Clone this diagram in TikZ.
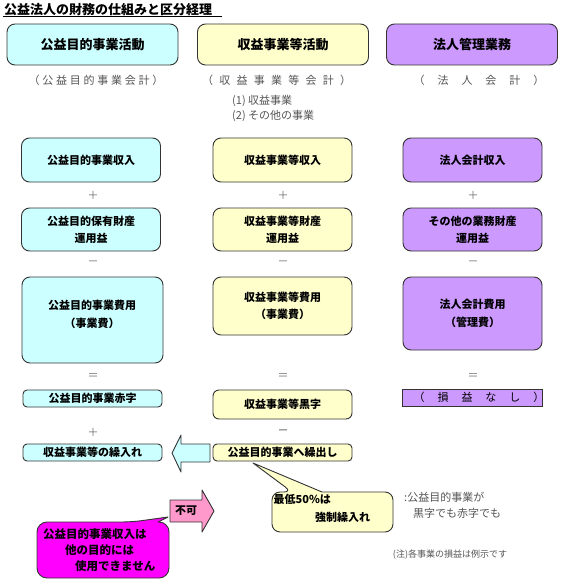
\documentclass[tikz,border=0pt]{standalone}
\usepackage{fontspec}
\setmainfont{Noto Sans CJK JP}
\definecolor{cy}{HTML}{CCFFFF}
\definecolor{yl}{HTML}{FFFFCC}
\definecolor{pu}{HTML}{CC99FF}
\definecolor{mg}{HTML}{FF00FF}
\definecolor{pk}{HTML}{FF99CC}
\definecolor{bd}{HTML}{333333}
\definecolor{subgray}{HTML}{555555}
\begin{document}
\begin{tikzpicture}[x=1pt,y=-1pt,
  bigbox/.style={draw=bd, line width=0.9pt, rounded corners=8pt, inner sep=0pt, align=center,
     font=\fontsize{11}{17}\selectfont\bfseries},
  hdbox/.style={bigbox, minimum width=171pt, minimum height=41pt, font=\fontsize{13}{15}\selectfont\bfseries},
  rowbox/.style={bigbox, minimum width=139pt, minimum height=44pt},
  smallbox/.style={draw=bd, line width=0.9pt, rounded corners=4pt, inner sep=0pt, minimum width=139pt,
     minimum height=17pt, font=\fontsize{11}{13}\selectfont\bfseries},
  subtxt/.style={inner sep=0pt, text=subgray, font=\fontsize{11}{13}\selectfont},
  optxt/.style={inner sep=0pt, text=black!55, font=\fontsize{11}{13}\selectfont},
  boldtxt/.style={inner sep=0pt, font=\fontsize{11}{13}\selectfont\bfseries},
  shapeline/.style={draw=bd, line width=0.9pt, line join=round}
]
\useasboundingbox (0,0) rectangle (560,583);

% title
\node[inner sep=0pt, anchor=west, font=\fontsize{13}{15}\selectfont\bfseries] (title) at (4,9.5) {公益法人の財務の仕組みと区分経理};
\coordinate (ulA) at (3,16.5);
\coordinate (ulB) at (222,16.5);
\draw[line width=1pt] (ulA) -- (ulB);

% header boxes
\node[hdbox, fill=cy] (h1) at (92.5,44.5) {公益目的事業活動};
\node[hdbox, fill=yl] (h2) at (283,44.5) {収益事業等活動};
\node[hdbox, fill=pu] (h3) at (472,44.5) {法人管理業務};

% subtitles
\node[subtxt] (s1) at (96,80) {\addfontfeatures{LetterSpace=25}（公益目的事業会計）};
\node[subtxt] (s2) at (276.6,80) {\addfontfeatures{LetterSpace=57}（収益事業等会計）};
\node[subtxt] (s3) at (479,80) {\addfontfeatures{LetterSpace=118}（法人会計）};
\node[subtxt, anchor=west] (n1) at (232,101) {(1) 収益事業};
\node[subtxt, anchor=west] (n2) at (232,116) {(2) その他の事業};

% row 1
\node[rowbox, fill=cy] (a1) at (91,160) {公益目的事業収入};
\node[rowbox, fill=yl] (b1) at (282.5,160) {収益事業等収入};
\node[rowbox, fill=pu] (c1) at (472.5,160) {法人会計収入};
\node[optxt] (pa1) at (93,195) {＋};
\node[optxt] (pb1) at (283,195) {＋};
\node[optxt] (pc1) at (473,195) {＋};

% row 2
\node[rowbox, fill=cy, minimum height=43pt] (a2) at (91,229.5) {公益目的保有財産\\運用益};
\node[rowbox, fill=yl, minimum height=43pt] (b2) at (282.5,229.5) {収益事業等財産\\運用益};
\node[rowbox, fill=pu, minimum height=43pt] (c2) at (472.5,229.5) {その他の業務財産\\運用益};
\node[optxt] (ma2) at (93,263) {－};
\node[optxt] (mb2) at (283,263) {－};
\node[optxt] (mc2) at (473,263) {－};

% row 3
\node[rowbox, fill=cy, minimum width=141pt, minimum height=86pt] (a3) at (92.5,320) {};
\node[boldtxt, align=center, font=\fontsize{11}{18}\selectfont\bfseries] (a3t) at (92,314) {公益目的事業費用\\（事業費）};
\node[rowbox, fill=yl, minimum height=58pt] (b3) at (282.5,306) {収益事業等費用\\（事業費）};
\node[rowbox, fill=pu, minimum height=73pt, font=\fontsize{11}{18}\selectfont\bfseries] (c3) at (472.5,313.5) {法人会計費用\\（管理費）};
\node[optxt] (ea3) at (93,377) {＝};
\node[optxt] (eb3) at (283,377) {＝};
\node[optxt] (ec3) at (473,377) {＝};

% row 4
\node[smallbox, fill=cy] (a4) at (92.5,398.5) {公益目的事業赤字};
\node[smallbox, fill=yl, minimum height=29pt, rounded corners=6pt] (b4) at (282.5,404.5) {収益事業等黒字};
\node[draw=bd, line width=0.9pt, fill=pu, minimum width=140pt, minimum height=17pt, inner sep=0pt] (c4) at (472,397.5) {};
\node[inner sep=0pt, font=\fontsize{11}{13}\selectfont] (c4t) at (479,397.5) {\addfontfeatures{LetterSpace=118}（損益なし）};
\node[optxt] (pa4) at (93,432) {＋};
\node[optxt, text=black!75] (mb4) at (283,432) {－};

% row 5
\node[smallbox, fill=cy] (a5) at (92.5,452.5) {収益事業等の繰入れ};
\node[smallbox, fill=yl] (b5) at (282.5,452.5) {公益目的事業へ繰出し};

% big cyan arrow
\draw[shapeline, fill=cy] (172,453) -- (181,435) -- (181,444) -- (210,444) -- (210,462) -- (181,462) -- (181,472) -- cycle;

% pink arrow
\draw[shapeline, fill=pk] (170,500) -- (202,500) -- (202,490) -- (214,511) -- (202,532) -- (202,522) -- (170,522) -- cycle;
\node[boldtxt] (fuka) at (186,511) {不可};

% yellow callout
\draw[shapeline, fill=yl] (272,512) [rounded corners=8pt] -- (272,492) -- (292,492) [sharp corners] -- (253,463) -- (322,492) [rounded corners=8pt] -- (393,492) -- (393,532) -- (272,532) -- cycle;
\node[boldtxt, anchor=west] (y1) at (273.5,499) {最低50\%は};
\node[boldtxt, anchor=west] (y2) at (315,517) {強制繰入れ};

% magenta callout
\draw[shapeline, fill=mg] (37,550) [rounded corners=10pt] -- (37,522) -- (132,522) [sharp corners] -- (168,517) -- (158,522) [rounded corners=10pt] -- (169,522) -- (169,578) -- (37,578) -- cycle;
\node[boldtxt, anchor=west, font=\fontsize{11.5}{13}\selectfont\bfseries] (m1) at (43,534) {公益目的事業収入は};
\node[boldtxt, anchor=west, font=\fontsize{11.5}{13}\selectfont\bfseries] (m2) at (65,550) {他の目的には};
\node[boldtxt, anchor=west, font=\fontsize{11.5}{13}\selectfont\bfseries] (m3) at (75,566) {使用できません};

% side notes
\node[subtxt, anchor=west] (r1) at (404,497) {:公益目的事業が};
\node[subtxt, anchor=west] (r2) at (413,513) {黒字でも赤字でも};
\node[subtxt, font=\fontsize{9}{11}\selectfont] (note) at (450,555) {(注)各事業の損益は例示です};
\end{tikzpicture}
\end{document}
